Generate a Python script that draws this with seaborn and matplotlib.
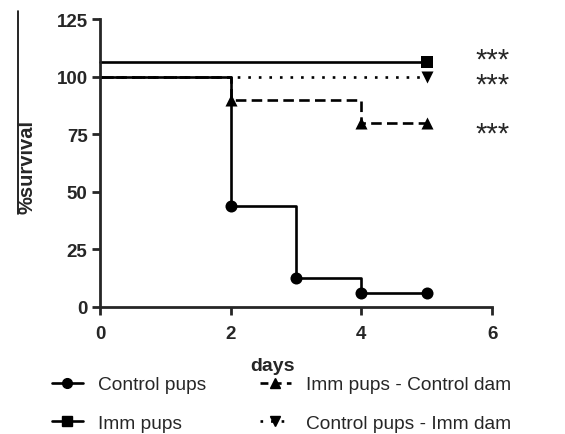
import matplotlib
matplotlib.use("Agg")
import matplotlib.pyplot as plt
from matplotlib.lines import Line2D
import seaborn as sns
import pandas as pd

# ---------------------------------------------------------------
# Kaplan-Meier style survival data
# ---------------------------------------------------------------
control_days = [0, 2, 3, 4, 5]
control_surv = [100, 43.75, 12.5, 6.25, 6.25]

imm_days = [0, 5]
imm_surv = [106.5, 106.5]   # drawn slightly above 100 so it stays visible

imm_ctrl_dam_days = [0, 2, 4, 5]
imm_ctrl_dam_surv = [100, 90, 80, 80]

ctrl_imm_dam_days = [0, 5]
ctrl_imm_dam_surv = [100, 100]

labels = ["Control pups", "Imm pups", "Imm pups - Control dam", "Control pups - Imm dam"]
stars = ["***", "***", "***"]
star_y = [108.5, 97.5, 76.5]

sns.set_style("ticks")
plt.rcParams["font.family"] = ["Liberation Sans", "DejaVu Sans"]

fig = plt.figure(figsize=(5.65, 4.35), dpi=100)
ax = fig.add_axes([0.177, 0.292, 0.694, 0.662])

lw = 1.9
series = [
    (ctrl_imm_dam_days, ctrl_imm_dam_surv, (0, (1, 3)), "v"),
    (imm_ctrl_dam_days, imm_ctrl_dam_surv, (0, (4, 2)), "^"),
    (imm_days, imm_surv, "-", "s"),
    (control_days, control_surv, "-", "o"),
]
for d, s, ls, mk in series:
    df = pd.DataFrame({"days": d, "surv": s})
    sns.lineplot(data=df, x="days", y="surv", drawstyle="steps-post",
                 color="black", linewidth=lw, linestyle=ls, ax=ax)
    # markers only at event / censor times (not at day 0)
    sns.scatterplot(data=df.iloc[1:], x="days", y="surv", marker=mk,
                    color="black", s=75, edgecolor="black", linewidth=0, ax=ax, zorder=5)

# significance stars, baseline shifted so the glyphs sit centred on star_y
for y, t in zip(star_y, stars):
    ax.annotate(t, (6.0, y), xytext=(0, -7.5), textcoords="offset points",
                ha="center", va="baseline", fontsize=21, annotation_clip=False)

ax.set_xlim(0, 6)
ax.set_ylim(0, 125)
ax.set_xticks([0, 2, 4, 6])
ax.set_yticks([0, 25, 50, 75, 100, 125])
ax.spines["top"].set_visible(False)
ax.spines["right"].set_visible(False)
for sp in ["left", "bottom"]:
    ax.spines[sp].set_linewidth(2)
ax.tick_params(width=2, length=6, labelsize=13.5, pad=3)
ax.tick_params(axis="x", pad=7)
for lab in ax.get_xticklabels() + ax.get_yticklabels():
    lab.set_fontweight("bold")
for line in ax.lines:
    line.set_clip_on(False)
for c in ax.collections:
    c.set_clip_on(False)

ax.set_xlabel("days", fontsize=14, fontweight="bold")
ax.xaxis.set_label_coords(0.439, -0.175)
ax.set_ylabel("")
fig.text(0.048, 0.616, "%survival", rotation=90, ha="center", va="center",
         fontsize=14.5, fontweight="bold")
fig.add_artist(Line2D([18 / 565, 18 / 565], [1 - 12 / 435, 1 - 215 / 435],
                      color="black", linewidth=1.2))

handles = [
    Line2D([], [], color="black", lw=lw, marker="o", markersize=7),
    Line2D([], [], color="black", lw=lw, marker="s", markersize=7),
    Line2D([], [], color="black", lw=lw, ls=(0, (3, 2)), marker="^", markersize=7),
    Line2D([], [], color="black", lw=lw, ls=(0, (1, 3)), marker="v", markersize=7),
]
fig.legend(handles, labels, ncol=2, loc="upper left",
           bbox_to_anchor=(52 / 565, 1 - 377 / 435), borderpad=0, borderaxespad=0,
           frameon=False, fontsize=13.8, handlelength=1.6, handletextpad=0.8,
           columnspacing=2.8, labelspacing=1.1)

fig.savefig("out.png", dpi=100)
